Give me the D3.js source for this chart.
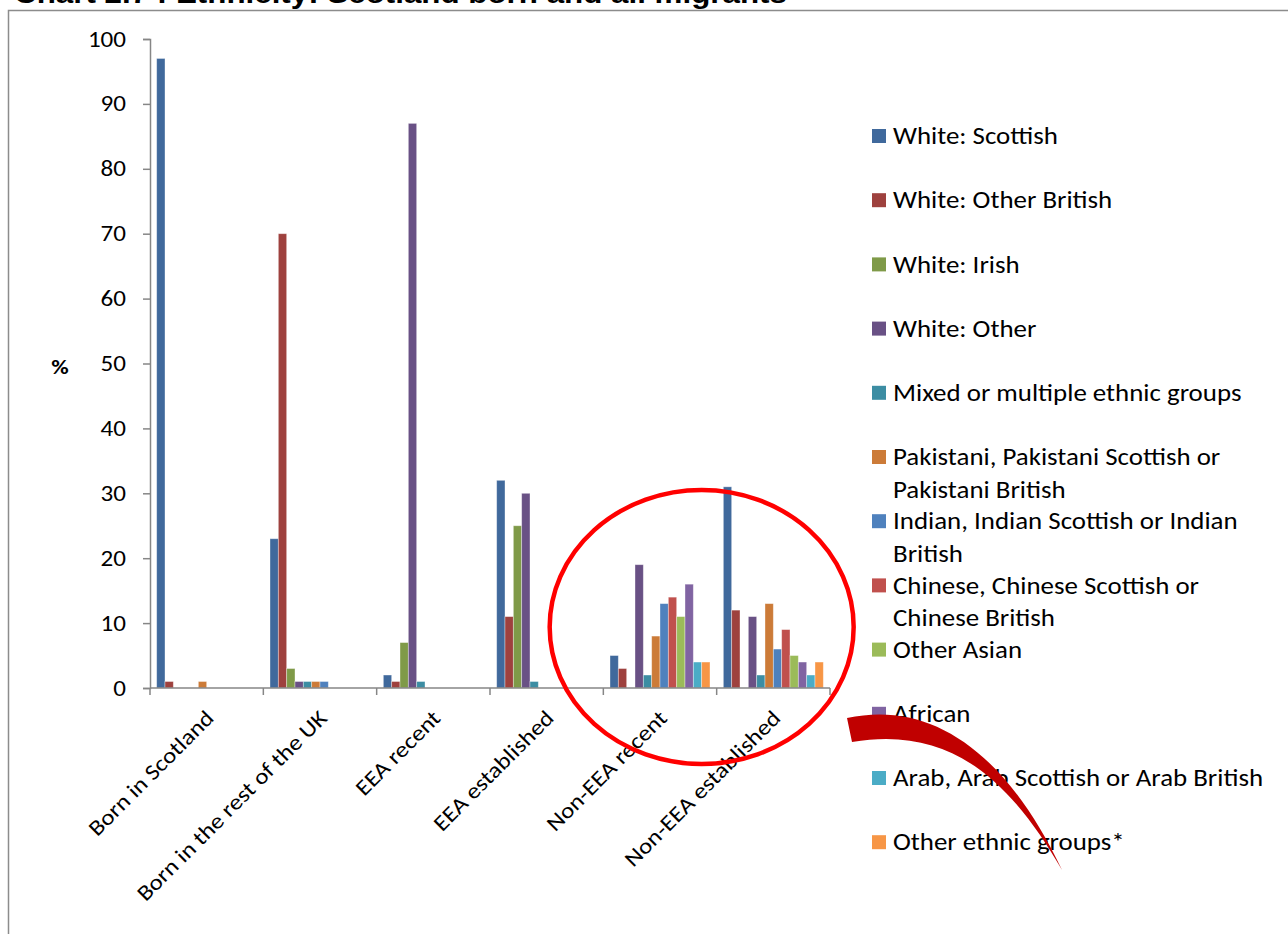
<!DOCTYPE html>
<html>
<head>
<meta charset="utf-8">
<script src="https://cdn.jsdelivr.net/npm/d3@7"></script>
<style>
  body { margin: 0; background: #fff; }
  text { font-family: Calibri, Carlito, "Open Sans", sans-serif; }
</style>
</head>
<body>
<div id="chart"></div>
<script>
var categories = [
  'Born in Scotland',
  'Born in the rest of the UK',
  'EEA recent',
  'EEA established',
  'Non-EEA recent',
  'Non-EEA established'
]

var seriesNames = [
  'White: Scottish',
  'White: Other British',
  'White: Irish',
  'White: Other',
  'Mixed or multiple ethnic groups',
  'Pakistani, Pakistani Scottish or Pakistani British',
  'Indian, Indian Scottish or Indian British',
  'Chinese, Chinese Scottish or Chinese British',
  'Other Asian',
  'African',
  'Arab, Arab Scottish or Arab British',
  'Other ethnic groups*'
]

// one array per ethnic group, values in category order
var whiteScottish = [97, 23, 2, 32, 5, 31]
var whiteOtherBritish = [1, 70, 1, 11, 3, 12]
var whiteIrish = [0, 3, 7, 25, 0, 0]
var whiteOther = [0, 1, 87, 30, 19, 11]
var mixed = [0, 1, 1, 1, 2, 2]
var pakistani = [1, 1, 0, 0, 8, 13]
var indian = [0, 1, 0, 0, 13, 6]
var chinese = [0, 0, 0, 0, 14, 9]
var otherAsian = [0, 0, 0, 0, 11, 5]
var african = [0, 0, 0, 0, 16, 4]
var arab = [0, 0, 0, 0, 4, 2]
var otherEthnic = [0, 0, 0, 0, 4, 4]

var seriesValues = [whiteScottish, whiteOtherBritish, whiteIrish, whiteOther, mixed, pakistani,
  indian, chinese, otherAsian, african, arab, otherEthnic]

var yTicks = [0, 10, 20, 30, 40, 50, 60, 70, 80, 90, 100]

var colors = ['#40699c', '#9e413e', '#7f9a48', '#695185', '#3c8da3', '#cc7b38',
  '#4f81bd', '#c0504d', '#9bbb59', '#8064a2', '#4bacc6', '#f79646']

// legend lines (wrapped like the original)
var legendLines = [
  ['White: Scottish'],
  ['White: Other British'],
  ['White: Irish'],
  ['White: Other'],
  ['Mixed or multiple ethnic groups'],
  ['Pakistani, Pakistani Scottish or', 'Pakistani British'],
  ['Indian, Indian Scottish or Indian', 'British'],
  ['Chinese, Chinese Scottish or', 'Chinese British'],
  ['Other Asian'],
  ['African'],
  ['Arab, Arab Scottish or Arab British'],
  ['Other ethnic groups*']
]

var width = 1288
var height = 934
var plot = { left: 150, right: 830, top: 39, bottom: 688 }
// the source picture is a little wider than tall, so text gets stretched too
var stretch = 1.14

var svg = d3
  .select('#chart')
  .append('svg')
  .attr('width', width)
  .attr('height', height)

// outer frame
svg
  .append('rect')
  .attr('x', 8.5)
  .attr('y', 10.5)
  .attr('width', 1300)
  .attr('height', 960)
  .attr('fill', 'none')
  .attr('stroke', '#8c8c8c')
  .attr('stroke-width', 1.5)

// title, cut at the top
svg
  .append('text')
  .attr('transform', 'translate(14,3) scale(' + stretch + ',1)')
  .text('Chart 2.7 : Ethnicity: Scotland born and all migrants')
  .style('font-family', 'Arial, "Liberation Sans", sans-serif')
  .attr('font-weight', 700)
  .attr('font-size', 27.5)

var x0 = d3
  .scaleBand()
  .domain(categories)
  .range([plot.left, plot.right])
  .padding(0)

var x1 = d3
  .scaleBand()
  .domain(d3.range(seriesNames.length))
  .range([0, x0.bandwidth()])
  .paddingInner(0)
  .paddingOuter(0.8)

var y = d3
  .scaleLinear()
  .domain([0, 100])
  .range([plot.bottom, plot.top])

// bars
var groups = svg
  .selectAll('.group')
  .data(categories)
  .enter()
  .append('g')
  .attr('class', 'group')
  .attr('transform', d => 'translate(' + x0(d) + ',0)')

groups
  .selectAll('rect')
  .data((d, ci) => seriesValues.map((vals, si) => ({ si: si, v: vals[ci] })))
  .enter()
  .filter(d => d.v > 0)
  .append('rect')
  .attr('x', d => x1(d.si))
  .attr('width', x1.bandwidth())
  .attr('y', d => y(d.v))
  .attr('height', d => y(0) - y(d.v))
  .attr('fill', d => colors[d.si])
  .attr('stroke', '#ffffff')
  .attr('stroke-opacity', 0.45)
  .attr('stroke-width', 0.8)

// y axis
var yAxis = svg
  .append('g')
  .attr('transform', 'translate(' + plot.left + ',0)')
  .call(d3.axisLeft(y).tickValues(yTicks).tickSize(7))

yAxis.select('.domain').attr('stroke', '#868686').attr('stroke-width', 1.5)
yAxis.selectAll('.tick line').attr('stroke', '#868686').attr('stroke-width', 1.5)
yAxis
  .selectAll('.tick text')
  .attr('x', 0)
  .attr('transform', 'translate(-24,0) scale(' + stretch + ',1)')
  .attr('font-size', 22)
  .attr('fill', '#000')
  .style('font-family', 'Calibri, Carlito, "Open Sans", sans-serif')

svg
  .append('text')
  .attr('transform', 'translate(60,369) scale(' + stretch + ',1)')
  .attr('text-anchor', 'middle')
  .attr('dominant-baseline', 'middle')
  .attr('font-size', 21)
  .attr('font-weight', 700)
  .text('%')

// x axis
var xAxisG = svg.append('g')
xAxisG
  .append('line')
  .attr('x1', plot.left)
  .attr('x2', plot.right)
  .attr('y1', y(0))
  .attr('y2', y(0))
  .attr('stroke', '#868686')
  .attr('stroke-width', 1.5)

var boundaries = categories.map(c => x0(c)).concat([plot.right])
xAxisG
  .selectAll('.xtick')
  .data(boundaries)
  .enter()
  .append('line')
  .attr('class', 'xtick')
  .attr('x1', d => d)
  .attr('x2', d => d)
  .attr('y1', y(0))
  .attr('y2', y(0) + 7)
  .attr('stroke', '#868686')
  .attr('stroke-width', 1.5)

xAxisG
  .selectAll('.xlabel')
  .data(categories)
  .enter()
  .append('text')
  .attr('class', 'xlabel')
  .attr('text-anchor', 'end')
  .attr('transform', d => 'translate(' + (x0(d) + x0.bandwidth() / 2 + 3) + ',' + (y(0) + 26) + ') rotate(-45) scale(' + stretch + ',1)')
  .attr('dy', '0.35em')
  .attr('font-size', 22)
  .text(d => d)

// legend
var legend = svg
  .append('g')
  .attr('transform', 'translate(872,136)')

var items = legend
  .selectAll('.item')
  .data(legendLines)
  .enter()
  .append('g')
  .attr('class', 'item')
  .attr('transform', (d, i) => 'translate(0,' + i * 64.2 + ')')

items
  .append('rect')
  .attr('x', 0)
  .attr('y', -7)
  .attr('width', 14)
  .attr('height', 14)
  .attr('fill', (d, i) => colors[i])

items
  .selectAll('text')
  .data(d => d)
  .enter()
  .append('text')
  .attr('transform', (d, j) => 'translate(21,' + j * 32.3 + ') scale(' + stretch + ',1)')
  .attr('dy', '0.35em')
  .attr('font-size', 23.6)
  .text(d => d)

// red annotation ellipse around the non-EEA groups
var ellipseCx = x0('Non-EEA established') - 15
svg
  .append('ellipse')
  .attr('cx', ellipseCx)
  .attr('cy', y(9.4))
  .attr('rx', 152)
  .attr('ry', 137)
  .attr('fill', 'none')
  .attr('stroke', '#ff0000')
  .attr('stroke-width', 4.5)

// swoosh arrow
svg
  .append('path')
  .attr('d', 'M847,718 C930,700 1005,750 1062,870 C1010,780 950,725 852,742 Z')
  .attr('fill', '#c00000')
</script>
</body>
</html>
